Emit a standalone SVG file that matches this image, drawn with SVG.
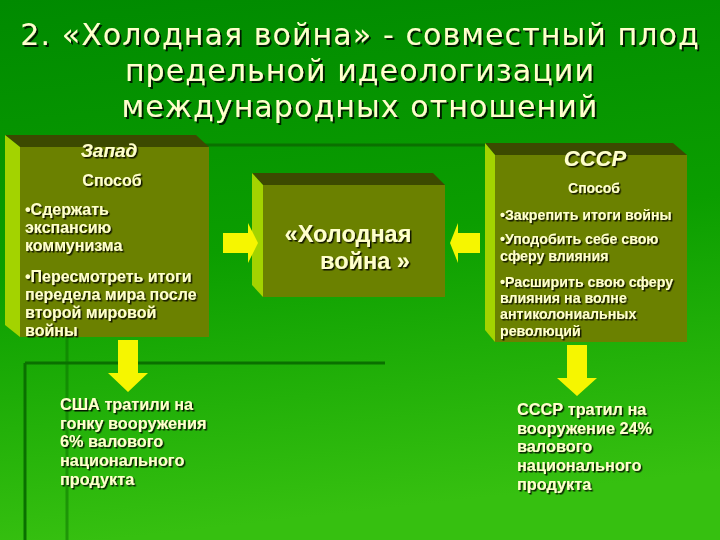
<svg xmlns="http://www.w3.org/2000/svg" width="720" height="540" viewBox="0 0 720 540">
<defs>
<linearGradient id="bg" x1="0" y1="0" x2="0.15" y2="1">
<stop offset="0" stop-color="#008a00"/>
<stop offset="0.5" stop-color="#0b9e00"/>
<stop offset="1" stop-color="#36c010"/>
</linearGradient>
<filter id="sh" x="-10%" y="-10%" width="130%" height="140%">
<feDropShadow dx="1.5" dy="1.5" stdDeviation="0.4" flood-color="#000" flood-opacity="0.85"/>
</filter>
<filter id="shT" x="-10%" y="-10%" width="130%" height="140%">
<feDropShadow dx="2" dy="2" stdDeviation="0.5" flood-color="#000" flood-opacity="0.8"/>
</filter>
</defs>
<style>
.front{fill:#6b8100}
.top{fill:#3c4a00}
.side{fill:#a3d300}
.deco{stroke:#0a7000;stroke-width:3;fill:none}
.arrow{fill:#f6f600}
.title{font-family:"DejaVu Sans","Noto Sans",sans-serif;font-size:30px;letter-spacing:1.1px;fill:#ffffcc}
.bx{font-family:"Liberation Sans",Arial,sans-serif;font-weight:bold;fill:#ffffcc}
</style>
<rect width="720" height="540" fill="url(#bg)"/>
<g id="decor">
<line class="deco" x1="150" y1="145" x2="486" y2="145"/>
<line class="deco" x1="25" y1="363" x2="385" y2="363"/>
<line class="deco" x1="25" y1="363" x2="25" y2="540"/>
<line class="deco" x1="67" y1="337" x2="67" y2="540" stroke-opacity="0.5"/>
</g>
<g id="title" filter="url(#shT)">
<text class="title" x="360" y="45" text-anchor="middle">2. «Холодная война» - совместный плод</text>
<text class="title" x="360" y="81" text-anchor="middle">предельной идеологизации</text>
<text class="title" x="360" y="117" text-anchor="middle">международных отношений</text>
</g>
<g id="zapad">
<polygon class="top" points="5,135 196,135 209,147 20,147"/>
<polygon class="side" points="5,135 20,147 20,337 5,325"/>
<rect class="front" x="20" y="147" width="189" height="190"/>
<g filter="url(#sh)">
<text class="bx" x="109" y="157" text-anchor="middle" font-size="19" font-style="italic">Запад</text>
<text class="bx" x="112" y="186" text-anchor="middle" font-size="16">Способ</text>
<text class="bx" font-size="16"><tspan x="25" y="215">•Сдержать</tspan><tspan x="25" y="233">экспансию</tspan><tspan x="25" y="251">коммунизма</tspan><tspan x="25" y="282">•Пересмотреть итоги</tspan><tspan x="25" y="300">передела мира после</tspan><tspan x="25" y="318">второй мировой</tspan><tspan x="25" y="336">войны</tspan></text>
</g>
</g>
<g id="war">
<polygon class="top" points="252,173 433,173 445,185 263,185"/>
<polygon class="side" points="252,173 263,185 263,297 252,285"/>
<rect class="front" x="263" y="185" width="182" height="112"/>
<g filter="url(#sh)">
<text class="bx" x="348" y="242" text-anchor="middle" font-size="23.5" font-weight="normal">«Холодная</text>
<text class="bx" x="365" y="269" text-anchor="middle" font-size="23.5" font-weight="normal">война »</text>
</g>
</g>
<g id="ussr">
<polygon class="top" points="485,143 673,143 687,155 495,155"/>
<polygon class="side" points="485,143 495,155 495,342 485,330"/>
<rect class="front" x="495" y="155" width="192" height="187"/>
<g filter="url(#sh)">
<text class="bx" x="595" y="166" text-anchor="middle" font-size="22" font-style="italic">СССР</text>
<text class="bx" x="594" y="193" text-anchor="middle" font-size="14">Способ</text>
<text class="bx" font-size="14.2"><tspan x="500" y="220">•Закрепить итоги войны</tspan><tspan x="500" y="244">•Уподобить себе свою</tspan><tspan x="500" y="261">сферу влияния</tspan><tspan x="500" y="287">•Расширить свою сферу</tspan><tspan x="500" y="303">влияния на волне</tspan><tspan x="500" y="319">антиколониальных</tspan><tspan x="500" y="336">революций</tspan></text>
</g>
</g>
<g id="usa-spend" filter="url(#sh)">
<text class="bx" font-size="16.3"><tspan x="60" y="410">США тратили на</tspan><tspan x="60" y="429">гонку вооружения</tspan><tspan x="60" y="447">6% валового</tspan><tspan x="60" y="466">национального</tspan><tspan x="60" y="485">продукта</tspan></text>
</g>
<g id="ussr-spend" filter="url(#sh)">
<text class="bx" font-size="16.3"><tspan x="517" y="415">СССР тратил на</tspan><tspan x="517" y="434">вооружение 24%</tspan><tspan x="517" y="452">валового</tspan><tspan x="517" y="471">национального</tspan><tspan x="517" y="490">продукта</tspan></text>
</g>
<g id="connectors">
<polygon class="arrow" points="223,233 248,233 248,223 258,243 248,263 248,253 223,253"/>
<polygon class="arrow" points="480,233 458,233 458,223 450,243 458,263 458,253 480,253"/>
<polygon class="arrow" points="118,340 138,340 138,373 148,373 128,392 108,373 118,373"/>
<polygon class="arrow" points="567,345 587,345 587,378 597,378 577,396 557,378 567,378"/>
</g>
</svg>
